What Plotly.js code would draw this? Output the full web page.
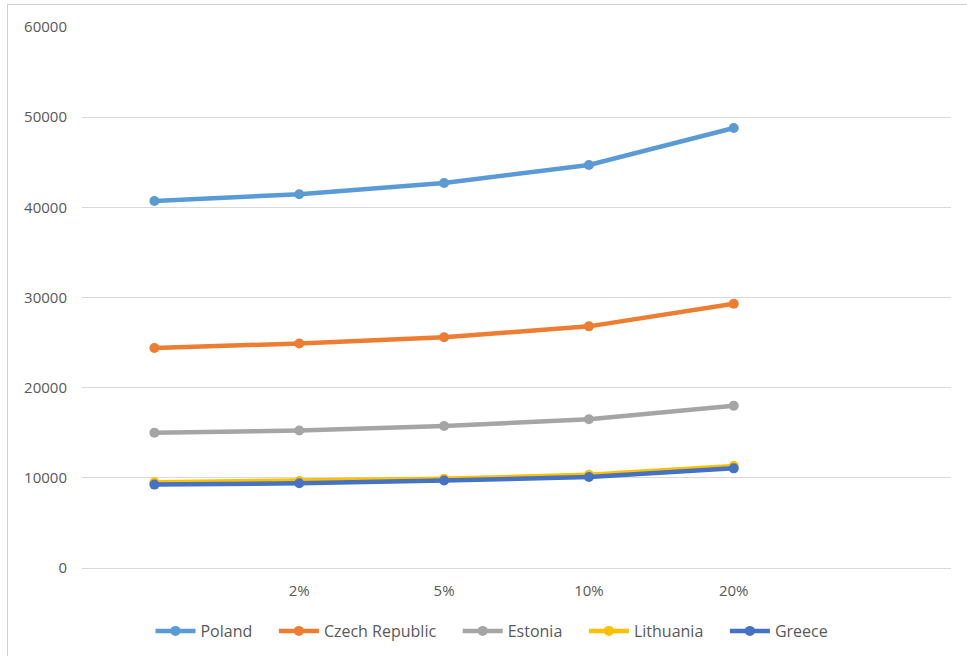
<!DOCTYPE html>
<html>
<head>
<meta charset="utf-8">
<script src="https://cdn.plot.ly/plotly-3.0.1.min.js"></script>
<style>
  html, body { margin: 0; padding: 0; background: #ffffff; }
  #wrap { position: relative; width: 967px; height: 656px; overflow: hidden; }
  #chart { position: absolute; left: 0; top: 0; width: 967px; height: 656px; }
  #frame { position: absolute; left: 7px; top: 4px; width: 980px; height: 680px;
           border-left: 1px solid #d0d0d0; border-top: 1px solid #d0d0d0; pointer-events: none; }
</style>
</head>
<body>
<div id="wrap">
  <div id="chart"></div>
  <div id="frame"></div>
</div>
<script>
// Category labels along the x axis (first point has no label)
const categories = ["", "2%", "5%", "10%", "20%"];

// Series values
const poland     = [40700, 41450, 42700, 44700, 48800];
const czech      = [24400, 24900, 25600, 26800, 29300];
const estonia    = [15000, 15250, 15750, 16500, 18000];
const lithuania  = [9500, 9650, 9900, 10350, 11300];
const greece     = [9250, 9400, 9700, 10100, 11050];

const seriesNames  = ["Poland", "Czech Republic", "Estonia", "Lithuania", "Greece"];
const seriesValues = [poland, czech, estonia, lithuania, greece];
const seriesColors = ["#5B9BD5", "#ED7D31", "#A5A5A5", "#FFC000", "#4472C4"];

const xpos = categories.map((_, i) => i);
// extra non-breaking space after each legend entry widens the gap between items
const pad = "\u00A0\u00A0\u00A0\u00A0";

const traces = seriesNames.map((name, k) => ({
  type: "scatter",
  mode: "lines+markers",
  name: name + pad,
  x: xpos,
  y: seriesValues[k],
  line: { color: seriesColors[k], width: 4.5 },
  marker: { color: seriesColors[k], size: 10 },
  hoverinfo: "x+y+name"
}));

const font = { family: "Open Sans, Liberation Sans, sans-serif", color: "#595959" };

const layout = {
  width: 967,
  height: 656,
  margin: { l: 82, r: 16, t: 27, b: 88, autoexpand: false },
  paper_bgcolor: "#ffffff",
  plot_bgcolor: "#ffffff",
  showlegend: true,
  font: Object.assign({ size: 15 }, font),
  xaxis: {
    range: [-0.5, 5.5],
    tickmode: "array",
    tickvals: xpos,
    ticktext: categories,
    showgrid: false,
    zeroline: false,
    showline: false,
    ticks: "",
    ticklabelstandoff: 12,
    tickfont: Object.assign({ size: 15 }, font),
    fixedrange: true,
    automargin: false
  },
  yaxis: {
    range: [0, 60000],
    tickmode: "linear",
    tick0: 0,
    dtick: 10000,
    tickformat: "d",
    showgrid: true,
    gridcolor: "#d9d9d9",
    gridwidth: 1,
    zeroline: true,
    zerolinecolor: "#d9d9d9",
    zerolinewidth: 1,
    showline: false,
    ticks: "",
    ticklen: 0,
    ticklabelstandoff: 14,
    tickfont: Object.assign({ size: 15 }, font),
    fixedrange: true,
    automargin: false
  },
  legend: {
    orientation: "h",
    x: 0.481,
    xanchor: "center",
    y: -0.085,
    yanchor: "top",
    font: Object.assign({ size: 16 }, font),
    itemwidth: 40,
    traceorder: "normal"
  }
};

Plotly.newPlot("chart", traces, layout, { displayModeBar: false, staticPlot: true });
</script>
</body>
</html>
